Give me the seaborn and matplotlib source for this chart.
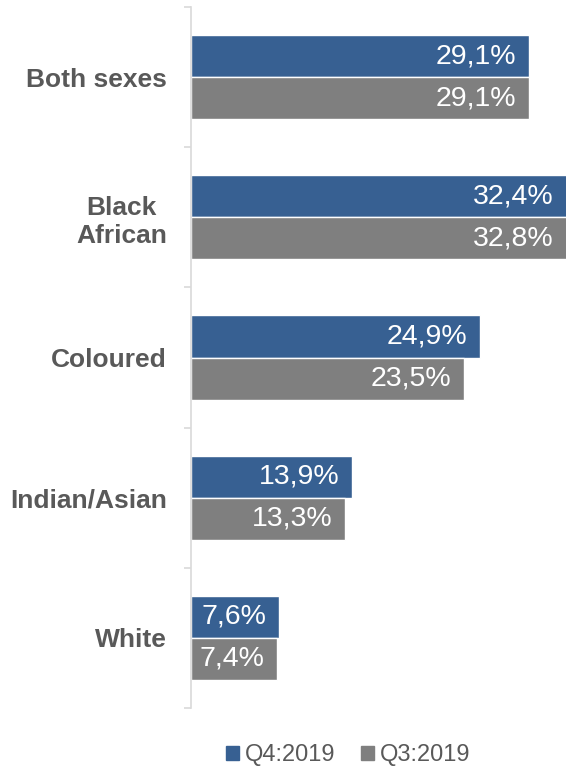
import pandas as pd
import seaborn as sns
import matplotlib.pyplot as plt

# données
categories = ['Both sexes', 'Black\nAfrican', 'Coloured', 'Indian/Asian', 'White']
q4_2019 = [29.1, 32.4, 24.9, 13.9, 7.6]
q3_2019 = [29.1, 32.8, 23.5, 13.3, 7.4]
series = ['Q4:2019', 'Q3:2019']

df = pd.DataFrame({
    'Groupe': categories * 2,
    'Taux': q4_2019 + q3_2019,
    'Trimestre': [series[0]] * len(categories) + [series[1]] * len(categories),
})

sns.set_style('white')
plt.rcParams['font.family'] = ['Liberation Sans', 'DejaVu Sans']

fig = plt.figure(figsize=(5.66, 7.69), dpi=100)
ax = fig.add_axes([190.6 / 566, 1 - 708 / 769, 1 - 190.6 / 566, 701 / 769])

palette = {'Q4:2019': '#376092', 'Q3:2019': '#7f7f7f'}
sns.barplot(data=df, y='Groupe', x='Taux', hue='Trimestre', order=categories,
            hue_order=series, palette=palette, width=0.6, orient='h',
            saturation=1, ax=ax, legend=False)

xmax = 32.28
ax.set_xlim(0, xmax)

# étiquettes à l'intérieur de la barre (la barre 32,8% dépasse le cadre)
for cont in ax.containers:
    for p, v in zip(cont.patches, cont.datavalues):
        lab = f'{v:.1f}%'.replace('.', ',')
        ax.annotate(lab, xy=(min(v, xmax), p.get_y() + p.get_height() / 2),
                    xytext=(-9, 0), textcoords='offset points',
                    ha='right', va='center', color='white', fontsize=20.5)

ax.set_ylim(4.5, -0.5)
ax.set_xlabel('')
ax.set_ylabel('')
ax.set_xticks([])
ax.set_yticks([i - 0.5 for i in range(6)], minor=True)
ax.set_yticks(range(5))
ax.set_yticklabels(categories, fontsize=19, fontweight='bold', color='#595959',
                   multialignment='center')
ax.tick_params(axis='y', which='major', left=False, length=0, pad=17)
ax.tick_params(axis='y', which='minor', left=True, length=5, color='#d9d9d9',
               width=1.2, direction='out')
for s in ['top', 'right', 'bottom']:
    ax.spines[s].set_visible(False)
ax.spines['left'].set_color('#d9d9d9')
ax.spines['left'].set_linewidth(1.2)

handles = [plt.Rectangle((0, 0), 1, 1, color=palette[s]) for s in series]
fig.legend(handles, series, loc='center', bbox_to_anchor=(348 / 566, 1 - 755 / 769),
           ncol=2, frameon=False, fontsize=17, labelcolor='#595959',
           handlelength=0.55, handleheight=0.55, handletextpad=0.25, columnspacing=1.1)

fig.savefig('out.png', dpi=100)
